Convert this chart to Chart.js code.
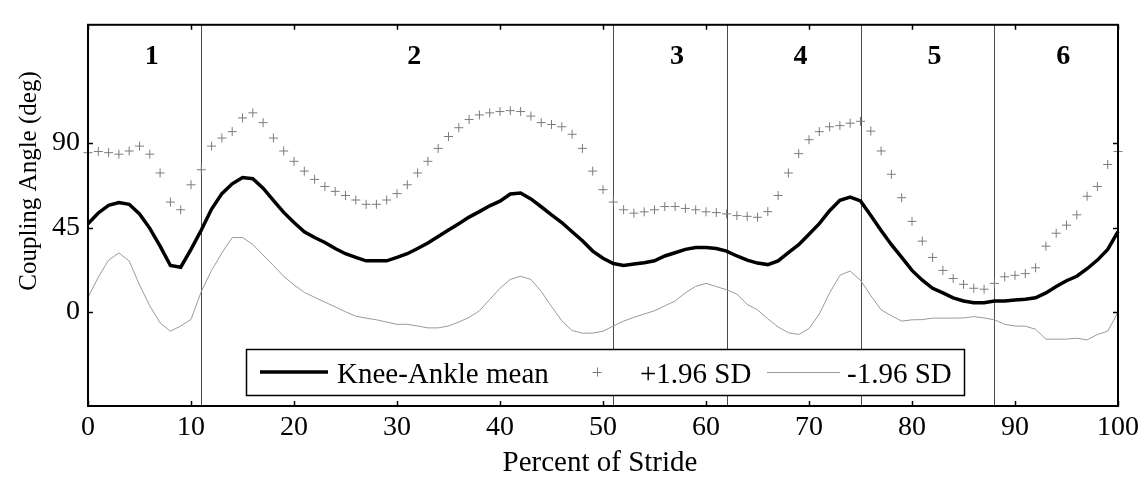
<!DOCTYPE html>
<html>
<head>
<meta charset="utf-8">
<script src="https://cdn.jsdelivr.net/npm/chart.js@4/dist/chart.umd.min.js"></script>
<style>
  html, body { margin: 0; padding: 0; background: #fff; }
  canvas { display: block; }
</style>
</head>
<body>
<canvas id="c" width="1148" height="478"></canvas>
<script>
// Percent of stride (x values)
const STRIDE = [
  0,1,2,3,4,5,6,7,8,9,10,11,12,13,14,15,16,17,18,19,20,
  21,22,23,24,25,26,27,28,29,30,31,32,33,34,35,36,37,38,39,40,
  41,42,43,44,45,46,47,48,49,50,51,52,53,54,55,56,57,58,59,60,
  61,62,63,64,65,66,67,68,69,70,71,72,73,74,75,76,77,78,79,80,
  81,82,83,84,85,86,87,88,89,90,91,92,93,94,95,96,97,98,99,100
];

// Knee-ankle coupling angle, mean (deg)
const KNEE_ANKLE_MEAN = [
  47.1,52.8,56.9,58.3,57.4,52.3,44.6,35.1,24.8,23.9,33.4,
  43.7,54.9,63.1,68.3,71.7,71.0,66.0,59.5,53.1,47.7,
  42.8,39.7,37.1,33.9,31.1,29.1,27.3,27.3,27.3,29.1,
  31.1,33.9,36.8,40.3,43.7,47.1,50.6,53.5,56.6,59.1,
  62.9,63.4,60.3,56.1,51.8,47.7,42.8,38.0,32.5,28.7,
  25.9,24.8,25.6,26.3,27.3,29.9,31.6,33.4,34.4,34.4,
  33.9,32.5,29.9,27.7,26.1,25.3,27.3,31.7,35.9,41.5,
  47.1,54.0,59.5,61.2,59.2,51.4,43.5,35.9,29.1,22.2,
  17.0,12.7,10.2,7.6,5.9,5.0,5.0,5.9,5.9,6.4,
  6.8,7.6,10.2,13.6,16.7,19.1,23.1,27.7,33.4,42.8
];

// Mean + 1.96 SD (deg)
const PLUS_SD = [
  84.9,85.5,84.9,84.1,85.8,88.4,84.1,74.1,58.6,54.5,67.8,
  75.8,88.4,92.7,96.1,103.4,106.1,100.9,92.7,85.8,80.3,
  75.1,70.7,66.9,64.3,62.1,59.7,57.4,57.4,59.7,63.1,
  67.8,74.1,80.3,87.2,93.5,98.2,102.6,105.0,106.1,106.8,
  107.3,106.8,104.4,100.9,99.9,98.7,94.7,87.2,75.1,65.2,
  58.6,54.5,52.7,53.4,54.5,56.2,56.2,55.2,54.5,53.4,
  53.0,52.3,51.4,51.0,50.5,53.5,62.1,74.1,84.4,91.8,
  96.1,98.7,99.3,100.6,101.6,96.4,85.8,73.4,60.9,48.3,
  37.8,29.1,22.2,17.9,14.8,12.7,12.2,15.3,18.8,19.6,
  20.5,23.6,35.1,42.0,46.3,51.8,61.7,66.9,78.6,85.5
];

// Mean - 1.96 SD (deg)
const MINUS_SD = [
  7.8,18.6,27.7,31.5,27.2,14.5,3.3,-5.7,-10.2,-7.4,-3.9,
  11.0,22.2,31.5,39.7,39.7,36.0,30.4,24.8,19.1,14.5,
  10.5,7.9,5.3,2.8,0.2,-2.2,-3.2,-4.1,-5.3,-6.5,
  -6.5,-7.4,-8.4,-8.4,-7.4,-5.3,-2.8,0.7,6.7,12.7,
  17.4,19.1,17.4,11.0,3.0,-4.6,-9.8,-11.2,-11.2,-10.2,
  -7.4,-4.8,-2.8,-1.0,0.7,3.3,5.9,10.3,13.7,15.3,
  13.6,11.9,9.6,4.1,1.2,-3.6,-7.9,-11.0,-11.9,-8.8,
  -1.0,10.2,19.6,21.9,16.9,8.8,1.2,-1.9,-4.8,-4.1,
  -4.0,-3.2,-3.2,-3.2,-3.1,-2.4,-3.1,-4.1,-6.5,-7.4,
  -7.5,-9.1,-14.4,-14.4,-14.4,-13.9,-14.8,-11.9,-10.2,-0.2
];

// Phase boundaries (percent of stride) and phase names
const PHASE_BOUNDS = [11, 51, 62, 75, 88];
const PHASE_LABELS = ['1', '2', '3', '4', '5', '6'];
const PHASE_LABEL_LEVEL = 136;

// Axis ticks
const X_TICKS = [0, 10, 20, 30, 40, 50, 60, 70, 80, 90, 100];
const Y_TICKS = [0, 45, 90];

const SERIES_NAMES = ['Knee-Ankle mean', '+1.96 SD', '-1.96 SD'];
const X_TITLE = 'Percent of Stride';
const Y_TITLE = 'Coupling Angle (deg)';

const SERIF = '"Liberation Serif", "Times New Roman", Times, serif';
const MARKER_GREY = '#7c7c7c';
const LINE_GREY = '#9a9a9a';

const toPoints = vals => STRIDE.map((s, i) => ({ x: s, y: vals[i] }));

// Frame, inward ticks, phase dividers, phase numbers, legend and axis titles
const decorations = {
  id: 'decorations',
  beforeDatasetsDraw(chart) {
    const { ctx, chartArea: a, scales: { x, y } } = chart;
    ctx.save();
    ctx.strokeStyle = '#4a4a4a';
    ctx.lineWidth = 1;
    PHASE_BOUNDS.forEach(v => {
      const px = Math.round(x.getPixelForValue(v)) + 0.5;
      ctx.beginPath();
      ctx.moveTo(px, a.top);
      ctx.lineTo(px, a.bottom);
      ctx.stroke();
    });
    ctx.fillStyle = '#000';
    ctx.font = 'bold 28px ' + SERIF;
    ctx.textAlign = 'left';
    ctx.textBaseline = 'middle';
    const edges = [0, ...PHASE_BOUNDS, 100];
    PHASE_LABELS.forEach((t, i) => {
      const mid = (edges[i] + edges[i + 1]) / 2;
      ctx.fillText(t, x.getPixelForValue(mid), y.getPixelForValue(PHASE_LABEL_LEVEL));
    });
    ctx.restore();
  },
  afterDatasetsDraw(chart) {
    const { ctx, chartArea: a, scales: { x, y } } = chart;
    const ds = chart.data.datasets;
    ctx.save();

    // axes box
    ctx.strokeStyle = '#000';
    ctx.lineWidth = 2;
    ctx.strokeRect(a.left, a.top, a.right - a.left, a.bottom - a.top);

    // inward tick marks on all four sides
    ctx.lineWidth = 1.5;
    const tl = 5;
    x.ticks.forEach(t => {
      const px = Math.round(x.getPixelForValue(t.value)) + 0.5;
      ctx.beginPath();
      ctx.moveTo(px, a.bottom); ctx.lineTo(px, a.bottom - tl);
      ctx.moveTo(px, a.top); ctx.lineTo(px, a.top + tl);
      ctx.stroke();
    });
    y.ticks.forEach(t => {
      const py = Math.round(y.getPixelForValue(t.value)) + 0.5;
      ctx.beginPath();
      ctx.moveTo(a.left, py); ctx.lineTo(a.left + tl, py);
      ctx.moveTo(a.right, py); ctx.lineTo(a.right - tl, py);
      ctx.stroke();
    });

    // legend
    const L = { left: 246, top: 349, width: 718, height: 46 };
    const midY = L.top + 23;
    const base = L.top + 34;
    ctx.fillStyle = '#fff';
    ctx.fillRect(L.left, L.top, L.width, L.height);
    ctx.strokeStyle = '#000';
    ctx.lineWidth = 1.5;
    ctx.strokeRect(L.left + 0.5, L.top + 0.5, L.width, L.height);

    ctx.font = '29px ' + SERIF;
    ctx.textAlign = 'left';
    ctx.textBaseline = 'alphabetic';
    ctx.fillStyle = '#000';

    // entry 1: mean line
    ctx.strokeStyle = ds[0].borderColor;
    ctx.lineWidth = ds[0].borderWidth;
    ctx.beginPath();
    ctx.moveTo(L.left + 14, midY); ctx.lineTo(L.left + 82, midY);
    ctx.stroke();
    ctx.fillText(SERIES_NAMES[0], L.left + 91, base);

    // entry 2: cross marker
    ctx.strokeStyle = MARKER_GREY;
    ctx.lineWidth = 1;
    const mx = L.left + 351, r = 4.5;
    ctx.beginPath();
    ctx.moveTo(mx - r, midY + 0.5); ctx.lineTo(mx + r, midY + 0.5);
    ctx.moveTo(mx + 0.5, midY - r); ctx.lineTo(mx + 0.5, midY + r);
    ctx.stroke();
    ctx.fillText(SERIES_NAMES[1], L.left + 394, base);

    // entry 3: thin grey line
    ctx.strokeStyle = LINE_GREY;
    ctx.lineWidth = 1;
    ctx.beginPath();
    ctx.moveTo(L.left + 521, midY + 0.5); ctx.lineTo(L.left + 594, midY + 0.5);
    ctx.stroke();
    ctx.fillText(SERIES_NAMES[2], L.left + 601, base);

    // axis titles
    ctx.font = '29px ' + SERIF;
    ctx.textAlign = 'center';
    ctx.fillText(X_TITLE, (a.left + a.right) / 2 - 3, 471);

    ctx.save();
    ctx.font = '25px ' + SERIF;
    ctx.translate(29, 181);
    ctx.rotate(-Math.PI / 2);
    ctx.textAlign = 'center';
    ctx.textBaseline = 'middle';
    ctx.fillText(Y_TITLE, 0, 0);
    ctx.restore();

    ctx.restore();
  }
};

new Chart(document.getElementById('c'), {
  type: 'line',
  data: {
    datasets: [
      {
        label: SERIES_NAMES[0],
        data: toPoints(KNEE_ANKLE_MEAN),
        borderColor: '#000',
        borderWidth: 3.5,
        pointRadius: 0,
        tension: 0,
        clip: false
      },
      {
        label: SERIES_NAMES[1],
        data: toPoints(PLUS_SD),
        showLine: false,
        pointStyle: 'cross',
        pointRadius: 4.5,
        pointBorderWidth: 1,
        pointBorderColor: MARKER_GREY,
        borderColor: MARKER_GREY,
        clip: false
      },
      {
        label: SERIES_NAMES[2],
        data: toPoints(MINUS_SD),
        borderColor: LINE_GREY,
        borderWidth: 1,
        pointRadius: 0,
        tension: 0,
        clip: false
      }
    ]
  },
  options: {
    responsive: false,
    devicePixelRatio: 1,
    animation: false,
    events: [],
    layout: { padding: { top: 12, right: 30, left: 0, bottom: 0 } },
    plugins: {
      legend: { display: false },
      tooltip: { enabled: false },
      title: { display: false }
    },
    scales: {
      x: {
        type: 'linear',
        min: 0,
        max: 100,
        afterFit(s) { s.height = 72; },
        afterBuildTicks(s) { s.ticks = X_TICKS.map(v => ({ value: v })); },
        grid: { display: false, drawTicks: false },
        border: { display: false },
        ticks: {
          autoSkip: false,
          maxRotation: 0,
          padding: 5,
          color: '#000',
          font: { family: SERIF, size: 28 }
        }
      },
      y: {
        type: 'linear',
        min: -50,
        max: 153,
        afterFit(s) { s.width = 88; },
        afterBuildTicks(s) { s.ticks = Y_TICKS.map(v => ({ value: v })); },
        grid: { display: false, drawTicks: false },
        border: { display: false },
        ticks: {
          padding: 8,
          color: '#000',
          font: { family: SERIF, size: 28 }
        }
      }
    }
  },
  plugins: [decorations]
});
</script>
</body>
</html>
